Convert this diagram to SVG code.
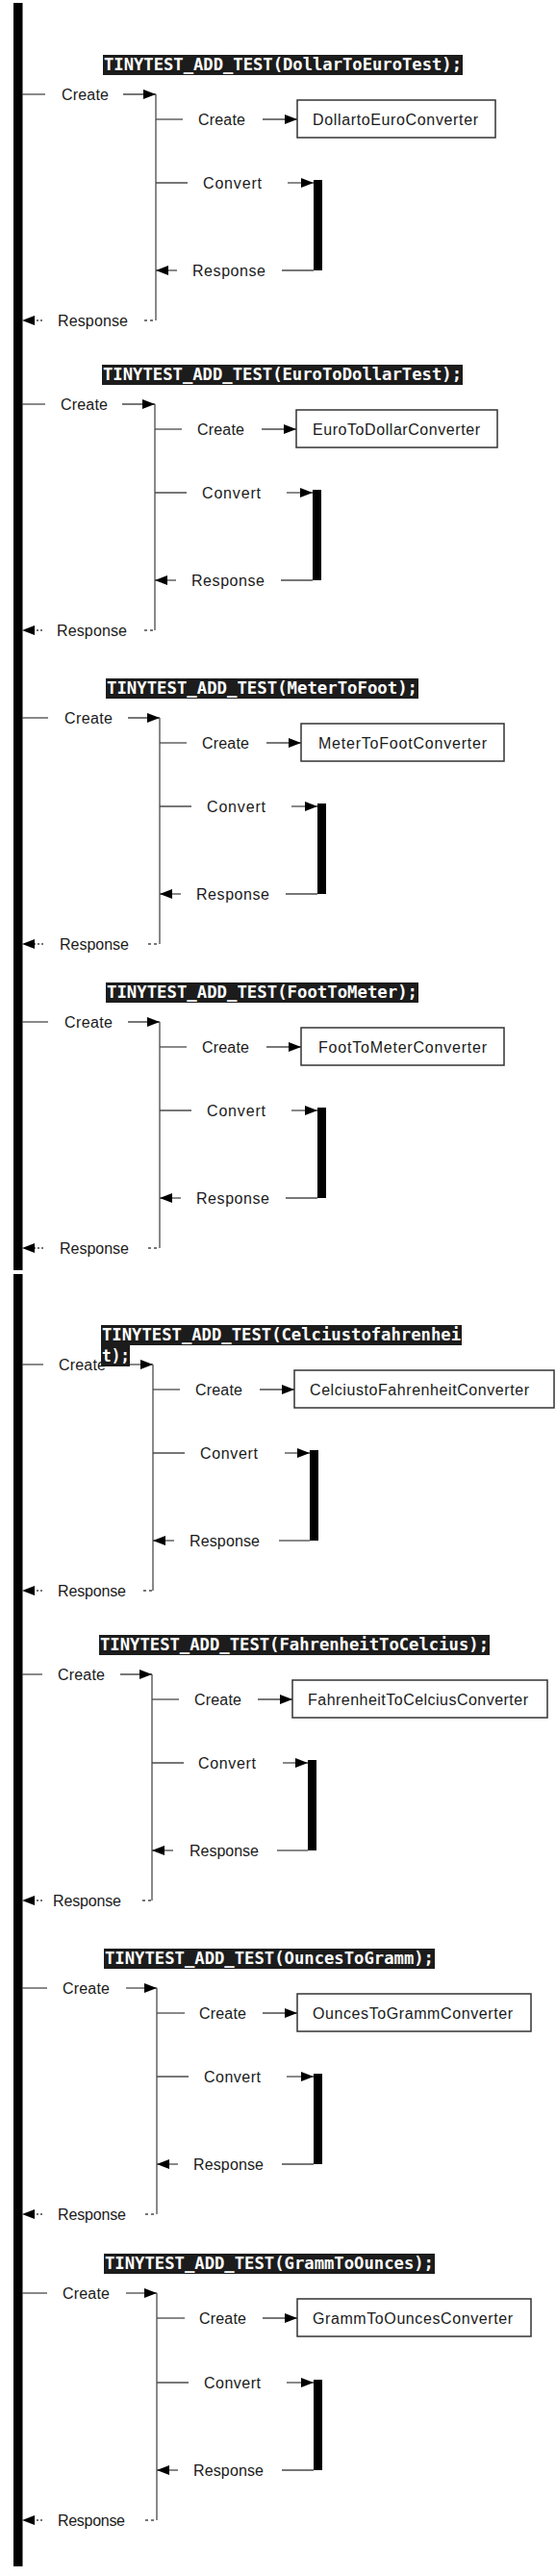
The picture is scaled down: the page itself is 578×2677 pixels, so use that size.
<svg xmlns="http://www.w3.org/2000/svg" width="578" height="2677" viewBox="0 0 578 2677">
<style>
.ln{stroke:#4a4a4a;stroke-width:1.3;fill:none}
.ar{stroke:#4a4a4a;stroke-width:1.3;fill:none;marker-end:url(#ah)}
.dot{stroke:#4a4a4a;stroke-width:1.3;fill:none;stroke-dasharray:2 2}
.dash{stroke:#4a4a4a;stroke-width:1.3;fill:none;stroke-dasharray:3 3}
.lb{font-family:"Liberation Sans",Arial,sans-serif;font-size:16px;fill:#1a1a1a}
.hb{fill:#1c1c1c}
.ht{font-family:"DejaVu Sans Mono","Liberation Mono",monospace;font-weight:bold;font-size:17px;fill:#fff}
.box{fill:#fff;stroke:#333;stroke-width:1.5}
.bt{font-family:"Liberation Sans",Arial,sans-serif;font-size:16px;fill:#1a1a1a;text-anchor:middle}
.bar{fill:#000}
</style>
<defs>
<marker id="ah" viewBox="0 0 13 10" refX="13" refY="5" markerWidth="13" markerHeight="10" markerUnits="userSpaceOnUse" orient="auto"><path d="M0,0L13,5L0,10z" fill="#000"/></marker>
</defs>
<rect width="578" height="2677" fill="#fff"/>
<g id="lifelines">
<rect id="lifeline-top" class="bar" x="14" y="3" width="9.5" height="1317"/>
<rect id="lifeline-bottom" class="bar" x="14" y="1324" width="9.5" height="1343"/>
</g>

<g id="connectors">
<!-- S1 C=98 V=162 -->
<line class="ln" x1="23" y1="98" x2="47" y2="98"/><text class="lb" x="64" y="104" textLength="49">Create</text><line class="ar" x1="128" y1="98" x2="162" y2="98"/>
<line class="ln" x1="162" y1="98" x2="162" y2="333"/>
<line class="ln" x1="162" y1="124" x2="190" y2="124"/><text class="lb" x="206" y="130" textLength="49">Create</text><line class="ar" x1="273" y1="124" x2="309" y2="124"/>
<line class="ln" x1="162" y1="190" x2="195" y2="190"/><text class="lb" x="211" y="196" textLength="61">Convert</text><line class="ar" x1="299" y1="190" x2="326" y2="190"/>
<line class="ar" x1="184" y1="281" x2="162" y2="281"/><text class="lb" x="200" y="287" textLength="76">Response</text><line class="ln" x1="293" y1="281" x2="326" y2="281"/>
<line class="dot" x1="44" y1="333" x2="33" y2="333"/><path d="M36,328L23,333L36,338z" fill="#000"/><text class="lb" x="60" y="339" textLength="73">Response</text><line class="dash" x1="150" y1="333" x2="162" y2="333"/>

<!-- S2 C=420 V=161 -->
<line class="ln" x1="23" y1="420" x2="47" y2="420"/><text class="lb" x="63" y="426" textLength="49">Create</text><line class="ar" x1="127" y1="420" x2="161" y2="420"/>
<line class="ln" x1="161" y1="420" x2="161" y2="655"/>
<line class="ln" x1="161" y1="446" x2="189" y2="446"/><text class="lb" x="205" y="452" textLength="49">Create</text><line class="ar" x1="272" y1="446" x2="308" y2="446"/>
<line class="ln" x1="161" y1="512" x2="194" y2="512"/><text class="lb" x="210" y="518" textLength="61">Convert</text><line class="ar" x1="298" y1="512" x2="325" y2="512"/>
<line class="ar" x1="183" y1="603" x2="161" y2="603"/><text class="lb" x="199" y="609" textLength="76">Response</text><line class="ln" x1="292" y1="603" x2="325" y2="603"/>
<line class="dot" x1="44" y1="655" x2="33" y2="655"/><path d="M36,650L23,655L36,660z" fill="#000"/><text class="lb" x="59" y="661" textLength="73">Response</text><line class="dash" x1="150" y1="655" x2="161" y2="655"/>

<!-- S3 C=746 V=166 -->
<line class="ln" x1="23" y1="746" x2="50" y2="746"/><text class="lb" x="67" y="752" textLength="50">Create</text><line class="ar" x1="133" y1="746" x2="166" y2="746"/>
<line class="ln" x1="166" y1="746" x2="166" y2="981"/>
<line class="ln" x1="166" y1="772" x2="194" y2="772"/><text class="lb" x="210" y="778" textLength="49">Create</text><line class="ar" x1="277" y1="772" x2="313" y2="772"/>
<line class="ln" x1="166" y1="838" x2="199" y2="838"/><text class="lb" x="215" y="844" textLength="61">Convert</text><line class="ar" x1="303" y1="838" x2="330" y2="838"/>
<line class="ar" x1="188" y1="929" x2="166" y2="929"/><text class="lb" x="204" y="935" textLength="76">Response</text><line class="ln" x1="297" y1="929" x2="330" y2="929"/>
<line class="dot" x1="45" y1="981" x2="33" y2="981"/><path d="M36,976L23,981L36,986z" fill="#000"/><text class="lb" x="62" y="987" textLength="72">Response</text><line class="dash" x1="154" y1="981" x2="166" y2="981"/>

<!-- S4 C=1062 V=166 -->
<line class="ln" x1="23" y1="1062" x2="50" y2="1062"/><text class="lb" x="67" y="1068" textLength="50">Create</text><line class="ar" x1="133" y1="1062" x2="166" y2="1062"/>
<line class="ln" x1="166" y1="1062" x2="166" y2="1297"/>
<line class="ln" x1="166" y1="1088" x2="194" y2="1088"/><text class="lb" x="210" y="1094" textLength="49">Create</text><line class="ar" x1="277" y1="1088" x2="313" y2="1088"/>
<line class="ln" x1="166" y1="1154" x2="199" y2="1154"/><text class="lb" x="215" y="1160" textLength="61">Convert</text><line class="ar" x1="303" y1="1154" x2="330" y2="1154"/>
<line class="ar" x1="188" y1="1245" x2="166" y2="1245"/><text class="lb" x="204" y="1251" textLength="76">Response</text><line class="ln" x1="297" y1="1245" x2="330" y2="1245"/>
<line class="dot" x1="45" y1="1297" x2="33" y2="1297"/><path d="M36,1292L23,1297L36,1302z" fill="#000"/><text class="lb" x="62" y="1303" textLength="72">Response</text><line class="dash" x1="154" y1="1297" x2="166" y2="1297"/>

<!-- S5 C=1418 V=159 -->
<line class="ln" x1="23" y1="1418" x2="45" y2="1418"/><text class="lb" x="61" y="1424" textLength="49">Create</text><line class="ar" x1="128" y1="1418" x2="159" y2="1418"/>
<line class="ln" x1="159" y1="1418" x2="159" y2="1653"/>
<line class="ln" x1="159" y1="1444" x2="187" y2="1444"/><text class="lb" x="203" y="1450" textLength="49">Create</text><line class="ar" x1="270" y1="1444" x2="306" y2="1444"/>
<line class="ln" x1="159" y1="1510" x2="192" y2="1510"/><text class="lb" x="208" y="1516" textLength="60">Convert</text><line class="ar" x1="296" y1="1510" x2="322" y2="1510"/>
<line class="ar" x1="181" y1="1601" x2="159" y2="1601"/><text class="lb" x="197" y="1607" textLength="73">Response</text><line class="ln" x1="290" y1="1601" x2="322" y2="1601"/>
<line class="dot" x1="44" y1="1653" x2="33" y2="1653"/><path d="M36,1648L23,1653L36,1658z" fill="#000"/><text class="lb" x="60" y="1659" textLength="71">Response</text><line class="dash" x1="149" y1="1653" x2="159" y2="1653"/>

<!-- S6 C=1740 V=158 -->
<line class="ln" x1="23" y1="1740" x2="44" y2="1740"/><text class="lb" x="60" y="1746" textLength="49">Create</text><line class="ar" x1="125" y1="1740" x2="158" y2="1740"/>
<line class="ln" x1="158" y1="1740" x2="158" y2="1975"/>
<line class="ln" x1="158" y1="1766" x2="186" y2="1766"/><text class="lb" x="202" y="1772" textLength="49">Create</text><line class="ar" x1="268" y1="1766" x2="304" y2="1766"/>
<line class="ln" x1="158" y1="1832" x2="191" y2="1832"/><text class="lb" x="206" y="1838" textLength="60">Convert</text><line class="ar" x1="294" y1="1832" x2="320" y2="1832"/>
<line class="ar" x1="180" y1="1923" x2="158" y2="1923"/><text class="lb" x="197" y="1929" textLength="72">Response</text><line class="ln" x1="288" y1="1923" x2="320" y2="1923"/>
<line class="dot" x1="44" y1="1975" x2="33" y2="1975"/><path d="M36,1970L23,1975L36,1980z" fill="#000"/><text class="lb" x="55" y="1981" textLength="71">Response</text><line class="dash" x1="148" y1="1975" x2="158" y2="1975"/>

<!-- S7 C=2066 V=163 -->
<line class="ln" x1="23" y1="2066" x2="49" y2="2066"/><text class="lb" x="65" y="2072" textLength="49">Create</text><line class="ar" x1="131" y1="2066" x2="163" y2="2066"/>
<line class="ln" x1="163" y1="2066" x2="163" y2="2301"/>
<line class="ln" x1="163" y1="2092" x2="192" y2="2092"/><text class="lb" x="207" y="2098" textLength="49">Create</text><line class="ar" x1="273" y1="2092" x2="309" y2="2092"/>
<line class="ln" x1="163" y1="2158" x2="196" y2="2158"/><text class="lb" x="212" y="2164" textLength="59">Convert</text><line class="ar" x1="298" y1="2158" x2="326" y2="2158"/>
<line class="ar" x1="185" y1="2249" x2="163" y2="2249"/><text class="lb" x="201" y="2255" textLength="73">Response</text><line class="ln" x1="293" y1="2249" x2="326" y2="2249"/>
<line class="dot" x1="44" y1="2301" x2="33" y2="2301"/><path d="M36,2296L23,2301L36,2306z" fill="#000"/><text class="lb" x="60" y="2307" textLength="71">Response</text><line class="dash" x1="151" y1="2301" x2="163" y2="2301"/>

<!-- S8 C=2383 V=163 -->
<line class="ln" x1="23" y1="2383" x2="49" y2="2383"/><text class="lb" x="65" y="2389" textLength="49">Create</text><line class="ar" x1="131" y1="2383" x2="163" y2="2383"/>
<line class="ln" x1="163" y1="2383" x2="163" y2="2619"/>
<line class="ln" x1="163" y1="2409" x2="192" y2="2409"/><text class="lb" x="207" y="2415" textLength="49">Create</text><line class="ar" x1="273" y1="2409" x2="309" y2="2409"/>
<line class="ln" x1="163" y1="2476" x2="196" y2="2476"/><text class="lb" x="212" y="2482" textLength="59">Convert</text><line class="ar" x1="298" y1="2476" x2="326" y2="2476"/>
<line class="ar" x1="185" y1="2567" x2="163" y2="2567"/><text class="lb" x="201" y="2573" textLength="73">Response</text><line class="ln" x1="293" y1="2567" x2="326" y2="2567"/>
<line class="dot" x1="44" y1="2619" x2="33" y2="2619"/><path d="M36,2614L23,2619L36,2624z" fill="#000"/><text class="lb" x="60" y="2625" textLength="70">Response</text><line class="dash" x1="151" y1="2619" x2="163" y2="2619"/>
</g>

<g id="s1-header"><rect class="hb" x="107" y="57" width="374" height="21"/><text class="ht" x="108" y="73" textLength="372" lengthAdjust="spacingAndGlyphs">TINYTEST_ADD_TEST(DollarToEuroTest);</text></g>
<g id="s1-converter"><rect class="box" x="309" y="104" width="206" height="39"/><text class="bt" x="411" y="130" textLength="172">DollartoEuroConverter</text></g>
<g id="s1-activation"><rect class="bar" x="326" y="187" width="9" height="94"/></g>

<g id="s2-header"><rect class="hb" x="106" y="379" width="375" height="21"/><text class="ht" x="107" y="395" textLength="373" lengthAdjust="spacingAndGlyphs">TINYTEST_ADD_TEST(EuroToDollarTest);</text></g>
<g id="s2-converter"><rect class="box" x="308" y="426" width="209" height="39"/><text class="bt" x="412" y="452" textLength="174">EuroToDollarConverter</text></g>
<g id="s2-activation"><rect class="bar" x="325" y="509" width="9" height="94"/></g>

<g id="s3-header"><rect class="hb" x="110" y="705" width="325" height="21"/><text class="ht" x="111" y="721" textLength="323" lengthAdjust="spacingAndGlyphs">TINYTEST_ADD_TEST(MeterToFoot);</text></g>
<g id="s3-converter"><rect class="box" x="313" y="752" width="211" height="39"/><text class="bt" x="418.5" y="778" textLength="175">MeterToFootConverter</text></g>
<g id="s3-activation"><rect class="bar" x="330" y="835" width="9" height="94"/></g>

<g id="s4-header"><rect class="hb" x="110" y="1021" width="325" height="21"/><text class="ht" x="111" y="1037" textLength="323" lengthAdjust="spacingAndGlyphs">TINYTEST_ADD_TEST(FootToMeter);</text></g>
<g id="s4-converter"><rect class="box" x="313" y="1068" width="211" height="39"/><text class="bt" x="418.5" y="1094" textLength="175">FootToMeterConverter</text></g>
<g id="s4-activation"><rect class="bar" x="330" y="1151" width="9" height="94"/></g>

<g id="s5-header"><rect class="hb" x="105" y="1377" width="375" height="21"/><text class="ht" x="106" y="1393" textLength="373" lengthAdjust="spacingAndGlyphs">TINYTEST_ADD_TEST(Celciustofahrenhei</text><rect class="hb" x="105" y="1398" width="30" height="22"/><text class="ht" x="106" y="1415" textLength="29" lengthAdjust="spacingAndGlyphs">t);</text></g>
<g id="s5-converter"><rect class="box" x="306" y="1424" width="270" height="39"/><text class="bt" x="436" y="1450" textLength="228">CelciustoFahrenheitConverter</text></g>
<g id="s5-activation"><rect class="bar" x="322" y="1507" width="9" height="94"/></g>

<g id="s6-header"><rect class="hb" x="103" y="1699" width="406" height="21"/><text class="ht" x="104" y="1715" textLength="404" lengthAdjust="spacingAndGlyphs">TINYTEST_ADD_TEST(FahrenheitToCelcius);</text></g>
<g id="s6-converter"><rect class="box" x="304" y="1746" width="265" height="39"/><text class="bt" x="434.5" y="1772" textLength="229">FahrenheitToCelciusConverter</text></g>
<g id="s6-activation"><rect class="bar" x="320" y="1829" width="9" height="94"/></g>

<g id="s7-header"><rect class="hb" x="108" y="2025" width="344" height="21"/><text class="ht" x="109" y="2041" textLength="342" lengthAdjust="spacingAndGlyphs">TINYTEST_ADD_TEST(OuncesToGramm);</text></g>
<g id="s7-converter"><rect class="box" x="309" y="2072" width="243" height="39"/><text class="bt" x="429" y="2098" textLength="208">OuncesToGrammConverter</text></g>
<g id="s7-activation"><rect class="bar" x="326" y="2155" width="9" height="94"/></g>

<g id="s8-header"><rect class="hb" x="108" y="2342" width="344" height="21"/><text class="ht" x="109" y="2358" textLength="342" lengthAdjust="spacingAndGlyphs">TINYTEST_ADD_TEST(GrammToOunces);</text></g>
<g id="s8-converter"><rect class="box" x="309" y="2389" width="243" height="39"/><text class="bt" x="429" y="2415" textLength="208">GrammToOuncesConverter</text></g>
<g id="s8-activation"><rect class="bar" x="326" y="2473" width="9" height="94"/></g>
</svg>
